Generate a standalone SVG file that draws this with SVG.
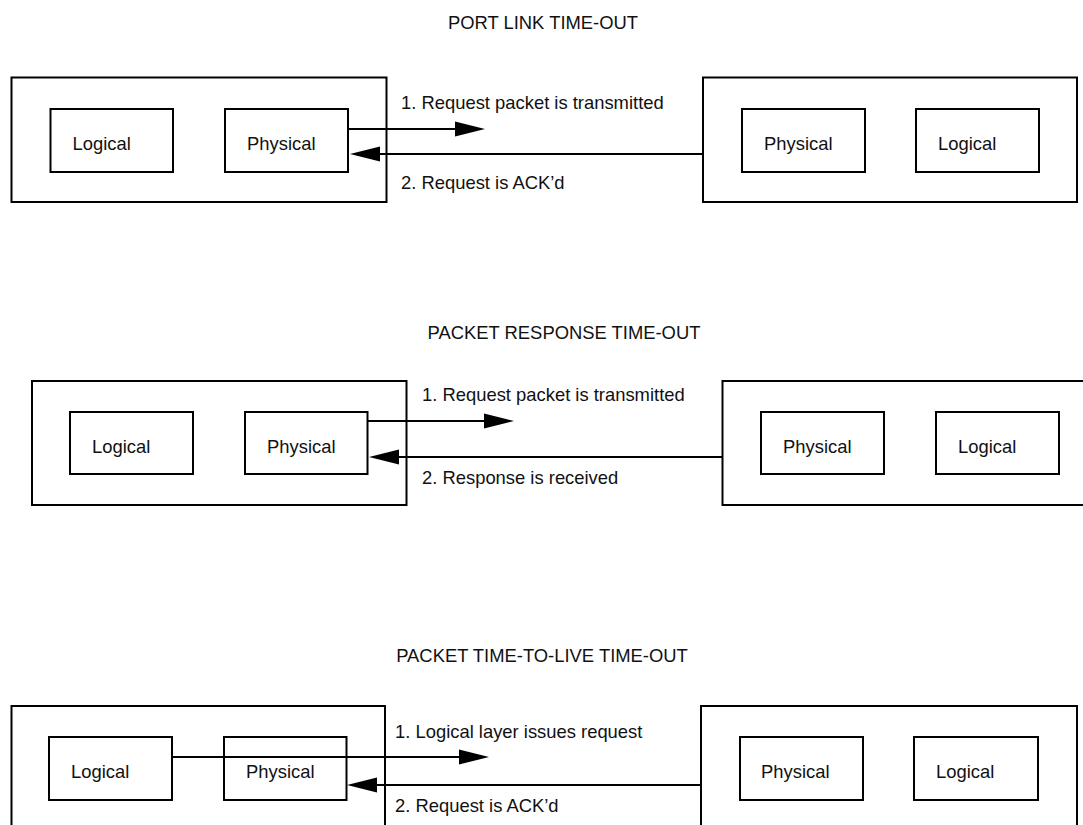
<svg xmlns="http://www.w3.org/2000/svg" width="1083" height="825" viewBox="0 0 1083 825">
<style>
  .box{fill:none;stroke:#000;stroke-width:2}
  .t{font-family:"Liberation Sans",Arial,sans-serif;font-size:18.4px;fill:#111}
  .title{text-anchor:middle}
  .ln{fill:none;stroke:#000;stroke-width:2}
</style>
<defs>
  <marker id="ah" markerUnits="userSpaceOnUse" markerWidth="30" markerHeight="15" refX="26" refY="7.5" orient="auto" overflow="visible">
    <path d="M0,0 L30,7.5 L0,15 Z" fill="#000"/>
  </marker>
</defs>
<rect width="1083" height="825" fill="#fff"/>

<!-- Section 1 -->
<text class="t title" x="543" y="29">PORT LINK TIME-OUT</text>
<g id="s1-left-endpoint"><rect class="box" x="11.5" y="77.5" width="375" height="124.5"/></g>
<g id="s1-left-logical"><rect class="box" x="50.5" y="109" width="122.5" height="63"/><text class="t" x="72.5" y="150">Logical</text></g>
<g id="s1-left-physical"><rect class="box" x="225" y="109" width="123" height="63"/><text class="t" x="247" y="150">Physical</text></g>
<g id="s1-right-endpoint"><rect class="box" x="703" y="77.5" width="374" height="124.5"/></g>
<g id="s1-right-physical"><rect class="box" x="742" y="109" width="123" height="63"/><text class="t" x="764" y="150">Physical</text></g>
<g id="s1-right-logical"><rect class="box" x="916" y="109" width="123" height="63"/><text class="t" x="938" y="150">Logical</text></g>
<text class="t" x="401" y="108.5">1. Request packet is transmitted</text>
<text class="t" x="401" y="189">2. Request is ACK’d</text>

<!-- Section 2 -->
<text class="t title" x="564" y="339">PACKET RESPONSE TIME-OUT</text>
<g id="s2-left-endpoint"><rect class="box" x="32" y="381" width="374.5" height="124"/></g>
<g id="s2-left-logical"><rect class="box" x="70" y="412" width="123" height="62"/><text class="t" x="92" y="452.5">Logical</text></g>
<g id="s2-left-physical"><rect class="box" x="245" y="412" width="122.5" height="62"/><text class="t" x="267" y="452.5">Physical</text></g>
<g id="s2-right-endpoint"><rect class="box" x="722.5" y="381" width="380" height="124"/></g>
<g id="s2-right-physical"><rect class="box" x="761" y="412" width="123" height="62"/><text class="t" x="783" y="452.5">Physical</text></g>
<g id="s2-right-logical"><rect class="box" x="936" y="412" width="123" height="62"/><text class="t" x="958" y="452.5">Logical</text></g>
<text class="t" x="422" y="400.5">1. Request packet is transmitted</text>
<text class="t" x="422" y="484">2. Response is received</text>

<!-- Section 3 -->
<text class="t title" x="542" y="662">PACKET TIME-TO-LIVE TIME-OUT</text>
<g id="s3-left-endpoint"><rect class="box" x="11.5" y="706" width="373.5" height="150"/></g>
<g id="s3-left-logical"><rect class="box" x="49" y="737" width="123" height="63"/><text class="t" x="71" y="778">Logical</text></g>
<g id="s3-left-physical"><rect class="box" x="224" y="737" width="122.5" height="63"/><text class="t" x="246" y="778">Physical</text></g>
<g id="s3-right-endpoint"><rect class="box" x="701" y="706" width="376" height="150"/></g>
<g id="s3-right-physical"><rect class="box" x="740" y="737" width="123" height="63"/><text class="t" x="761" y="778">Physical</text></g>
<g id="s3-right-logical"><rect class="box" x="914" y="737" width="124" height="63"/><text class="t" x="936" y="778">Logical</text></g>
<text class="t" x="395" y="738">1. Logical layer issues request</text>
<text class="t" x="395" y="812">2. Request is ACK’d</text>

<g id="connectors">
  <path class="ln" d="M348,129 H481" marker-end="url(#ah)"/>
  <path class="ln" d="M703,154 H354" marker-end="url(#ah)"/>
  <path class="ln" d="M367.5,421 H510" marker-end="url(#ah)"/>
  <path class="ln" d="M722.5,457 H373" marker-end="url(#ah)"/>
  <path class="ln" d="M173,757 H485" marker-end="url(#ah)"/>
  <path class="ln" d="M701,785 H351" marker-end="url(#ah)"/>
</g>
</svg>
